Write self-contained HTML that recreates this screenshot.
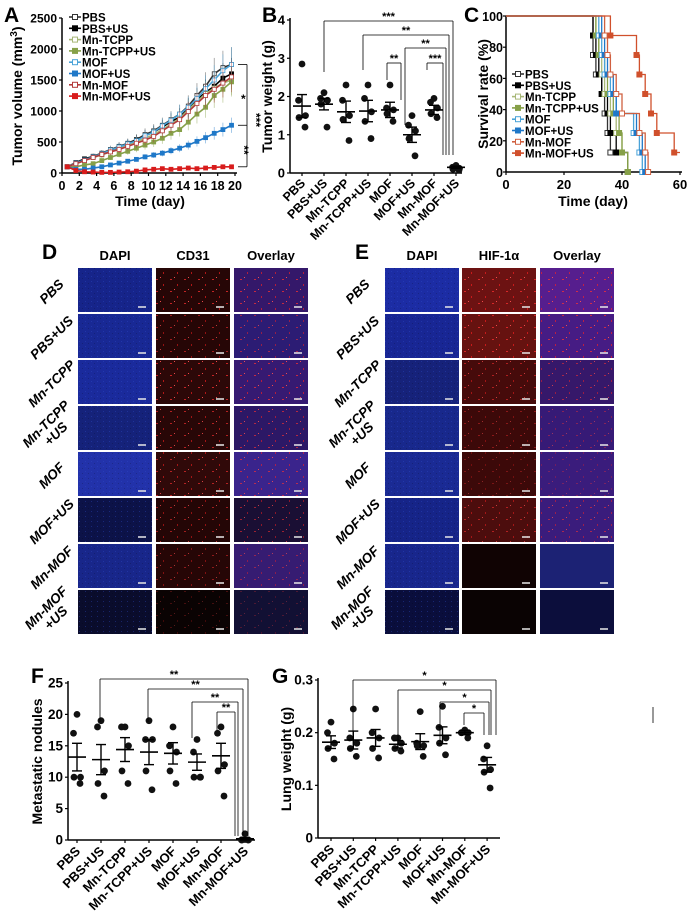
<!DOCTYPE html>
<html><head><meta charset="utf-8"><style>
body{margin:0;background:#fff}
svg{display:block;font-family:"Liberation Sans",Arial,sans-serif}
.t{font-weight:bold;fill:#000}
</style></head><body>
<svg id="fig" width="693" height="918" viewBox="0 0 693 918">
<defs>
<pattern id="spk" width="14" height="12" patternUnits="userSpaceOnUse">
<rect x="2" y="3" width="2" height="1" fill="#ff3030" opacity="0.8"/><rect x="9" y="8" width="1" height="2" fill="#ff2020" opacity="0.7"/><rect x="6" y="1" width="1" height="1" fill="#ff5050"/>
</pattern>
<pattern id="bsp" width="6" height="5" patternUnits="userSpaceOnUse">
<rect x="1" y="1" width="1" height="1" fill="#3050d0" opacity="0.6"/><rect x="4" y="3" width="1" height="1" fill="#000" opacity="0.3"/>
</pattern>
</defs>
<g id="root"></g>
</svg>
<script>
// ---------- Panel A data ----------
const aDays = [0.6,1.6,2.6,3.6,4.6,5.6,6.6,7.6,8.6,9.6,10.6,11.6,12.6,13.6,14.6,15.6,16.6,17.6,18.6,19.6];
const aNames = ["PBS","PBS+US","Mn-TCPP","Mn-TCPP+US","MOF","MOF+US","Mn-MOF","Mn-MOF+US"];
const aPBS = [100,170,230,270,320,380,430,480,540,620,680,770,860,950,1080,1250,1400,1600,1700,1750];
const aPBSUS = [100,160,220,260,300,360,420,470,530,600,660,740,830,900,1040,1180,1300,1400,1530,1600];
const aTCPP = [100,150,200,250,290,340,390,440,500,560,620,700,790,880,1020,1150,1280,1370,1450,1500];
const aTCPPUS = [100,100,130,150,200,250,300,350,400,450,500,560,640,700,820,950,1060,1250,1350,1470];
const aMOF = [100,160,210,260,310,370,420,470,520,600,660,760,850,950,1060,1200,1360,1500,1650,1750];
const aMOFUS = [100,60,60,80,100,130,160,190,220,260,290,320,360,400,450,510,570,640,700,770];
const aMnMOF = [100,150,200,250,300,340,380,430,480,530,590,680,770,860,990,1120,1250,1350,1450,1550];
const aMnMOFUS = [100,40,20,15,10,10,15,20,30,50,60,70,60,70,80,70,80,90,100,100];
const aYTicks = [0,500,1000,1500,2000,2500];
const aXTicks = [0,2,4,6,8,10,12,14,16,18,20];
// ---------- Panel B data ----------
const cats = ["PBS","PBS+US","Mn-TCPP","Mn-TCPP+US","MOF","MOF+US","Mn-MOF","Mn-MOF+US"];
const bMeans = [1.75,1.8,1.6,1.62,1.65,1.0,1.65,0.15];
const bSem = [0.3,0.15,0.28,0.28,0.2,0.2,0.12,0.03];
const bPts = [[2.85,1.9,1.5,1.45,1.2],[2.1,1.95,1.9,1.8,1.2],[2.3,1.9,1.5,1.4,0.85],[2.3,1.95,1.6,1.35,0.9],[2.3,1.7,1.65,1.55,1.35],[1.5,1.25,1.1,0.9,0.45],[1.95,1.85,1.7,1.55,1.45],[0.2,0.15,0.12,0.1,0.08]];
const bTicks = [0,1,2,3,4];
// ---------- Panel C data (death days, n=8) ----------
const cPBS = [30,30,31,33,34,35,36,42];
const cPBSUS = [30,31,32,33,35,36,38,42];
const cTCPP = [31,32,33,34,36,38,40,42];
const cTCPPUS = [31,32,34,35,37,39,40,42];
const cMOF = [32,33,34,36,38,44,46,47];
const cMOFUS = [33,34,35,37,38,45,47,48];
const cMnMOF = [34,35,36,38,40,46,48,49];
const cMnMOFUS = [36,45,46,48,50,52,58];
const cYTicks = [0,20,40,60,80,100];
const cXTicks = [0,20,40,60];
// ---------- Panel F data ----------
const fMeans = [13.2,12.8,14.4,14.0,13.8,12.4,13.4,0.2];
const fSem = [2.2,2.4,1.9,2.0,1.7,1.3,2.0,0.2];
const fPts = [[20,17,10,10,9],[19,18,11,9,7],[18,18,15,11,9],[19,16,16,11,8],[18,15,14,11,9],[16,14,10,10,10],[18,17,12,11,7],[1,0,0,0,0]];
const fTicks = [0,5,10,15,20,25];
// ---------- Panel G data ----------
const gMeans = [0.182,0.186,0.190,0.178,0.183,0.195,0.200,0.139];
const gSem = [0.012,0.017,0.016,0.007,0.015,0.016,0.004,0.014];
const gPts = [[0.22,0.2,0.18,0.17,0.15],[0.245,0.19,0.18,0.17,0.155],[0.245,0.2,0.19,0.17,0.152],[0.19,0.19,0.18,0.17,0.165],[0.24,0.18,0.175,0.175,0.155],[0.25,0.21,0.19,0.18,0.158],[0.205,0.2,0.2,0.2,0.19],[0.175,0.15,0.13,0.125,0.095]];
const gTicks = [0,0.1,0.2,0.3];

const NS="http://www.w3.org/2000/svg";
const root=document.getElementById('root');
function E(tag,parent){const e=document.createElementNS(NS,tag);(parent||root).appendChild(e);return e;}
function S(e,k,v){e.setAttribute(k,v);return e;}
function line(x1,y1,x2,y2,c,w,p){const l=E('line',p);S(l,'x1',x1);S(l,'y1',y1);S(l,'x2',x2);S(l,'y2',y2);S(l,'stroke',c);S(l,'stroke-width',w);return l;}
function text(x,y,s,size,p,anchor){const t=E('text',p);S(t,'x',x);S(t,'y',y);S(t,'font-size',size);S(t,'class','t');if(anchor)S(t,'text-anchor',anchor);t.textContent=s;return t;}
function grp(){return E('g');}

[["A",4,22],["B",262,22],["C",464,22],["D",42,259],["E",355,259],["F",31,683],["G",272,683]].forEach(a=>{
  const t=text(a[1],a[2],a[0],21);
  
  
});

// ===== Panel A =====
const gA=grp();


const ax=d=>62+d*(235-62)/20, ay=v=>173-v*(155/2500);
line(62,18,62,173,'#000',1.5,gA);line(62,173,237,173,'#000',1.5,gA);
aYTicks.forEach(v=>{line(59,ay(v),62,ay(v),'#000',1.2,gA);text(57,ay(v)+4.5,String(v),12,gA,'end');});
aXTicks.forEach(d=>{line(ax(d),173,ax(d),176,'#000',1.2,gA);text(ax(d),190,String(d),12.5,gA,'middle');});
const xt=text(150,206,"Time (day)",14,gA,'middle');


const ytA=text(0,0,"",14,gA,'middle');S(ytA,'transform','translate(22,96) rotate(-90)');
ytA.innerHTML='Tumor volume (mm<tspan dy="-5" font-size="10">3</tspan><tspan dy="5">)</tspan>';


const aSeries=[aPBS,aPBSUS,aTCPP,aTCPPUS,aMOF,aMOFUS,aMnMOF,aMnMOFUS];
const aCol=["#333","#000","#a8b878","#86a048","#4aa3d8","#1f78c8","#b23a3a","#d81c1c"];
const aFill=[false,true,false,true,false,true,false,true];
aSeries.forEach((s,i)=>{
  const sg=E('g',gA);
  
  
  s.forEach((v,j)=>{const e=v*0.16;line(ax(aDays[j]),ay(v+e),ax(aDays[j]),ay(Math.max(0,v-e)),aCol[i],0.8,sg).setAttribute('opacity','0.5');});
  const pl=E('polyline',sg);S(pl,'points',s.map((v,j)=>ax(aDays[j])+','+ay(v)).join(' '));S(pl,'fill','none');S(pl,'stroke',aCol[i]);S(pl,'stroke-width',1.6);
  s.forEach((v,j)=>{const r=E('rect',sg);S(r,'x',ax(aDays[j])-2);S(r,'y',ay(v)-2);S(r,'width',4);S(r,'height',4);S(r,'fill',aFill[i]?aCol[i]:'#fff');S(r,'stroke',aCol[i]);S(r,'stroke-width',0.8);});
});
aNames.forEach((n,i)=>{
  const lg=E('g',gA);
  
  
  const y=17+i*11.3;
  line(69,y,81,y,aCol[i],1.6,lg);
  const r=E('rect',lg);S(r,'x',72.5);S(r,'y',y-2.5);S(r,'width',5);S(r,'height',5);S(r,'fill',aFill[i]?aCol[i]:'#fff');S(r,'stroke',aCol[i]);
  text(82,y+4.5,n,11.5,lg);
});
const sgA=E('g',gA);


line(238,ay(1750),247,ay(1750),'#000',0.8,sgA);line(247,ay(1750),247,ay(100),'#000',0.8,sgA);
line(238,ay(100),247,ay(100),'#000',0.8,sgA);line(238,ay(770),247,ay(770),'#000',0.8,sgA);
text(241,103,"*",12,sgA);
const st3=text(0,0,"***",12,sgA,'middle');S(st3,'transform','translate(252,120) rotate(90)');
const st2=text(0,0,"**",12,sgA,'middle');S(st2,'transform','translate(240,150) rotate(90)');

// ===== dot plot helper =====
function dotPlot(name,x0,xAxisEnd,yTop,yBot,vmax,ticks,tickFmt,cx0,dx,means,sem,pts,labY,title,titleX,fontTick,labFont){
  const g=grp();
  
  
  const y=v=>yBot-v*(yBot-yTop)/vmax, x=i=>cx0+i*dx;
  line(x0,yTop-2,x0,yBot,'#000',1.5,g);line(x0,yBot,xAxisEnd,yBot,'#000',1.5,g);
  ticks.forEach(v=>{line(x0-3,y(v),x0,y(v),'#000',1.2,g);text(x0-5,y(v)+4.5,tickFmt(v),fontTick,g,'end');});
  cats.forEach((c,i)=>{
    line(x(i),yBot,x(i),yBot+3,'#000',1.2,g);
    const cg=E('g',g);
    
    
    pts[i].forEach((p,k)=>{const ci=E('circle',cg);S(ci,'cx',x(i)+[0,-3.5,3.5,-3,3][k]);S(ci,'cy',y(p));S(ci,'r',3.4);S(ci,'fill','#111');});
    line(x(i)-9,y(means[i]),x(i)+9,y(means[i]),'#000',1.6,cg);
    line(x(i),y(means[i]+sem[i]),x(i),y(means[i]-sem[i]),'#000',1.4,cg);
    line(x(i)-5,y(means[i]+sem[i]),x(i)+5,y(means[i]+sem[i]),'#000',1.4,cg);
    line(x(i)-5,y(means[i]-sem[i]),x(i)+5,y(means[i]-sem[i]),'#000',1.4,cg);
    const lt=text(0,0,c,labFont,g,'end');S(lt,'transform','translate('+(x(i)+4)+','+labY+') rotate(-45)');
    
    
  });
  const tt=text(0,0,title,14,g,'middle');S(tt,'transform','translate('+titleX+','+((yTop+yBot)/2)+') rotate(-90)');
  
  
  return {g,x,y};
}
function bracket(g,x1,x2,yb,d1,d2,label){
  line(x1,yb,x2,yb,'#000',0.8,g);line(x1,yb,x1,d1,'#000',0.8,g);line(x2,yb,x2,d2,'#000',0.8,g);
  text((x1+x2)/2,yb-1,label,11,g,'middle');
}
// ===== Panel B =====
const B=dotPlot('tumor-weight-chart',290,462,20,173,4,bTicks,v=>String(v),302,22,bMeans,bSem,bPts,184,'Tumor weight (g)',272,13,12.5);
const bb=E('g',B.g);


bracket(bb,324,453,21,72,155,'***');bracket(bb,363,449,35,70,155,'**');
bracket(bb,405,446,48,125,155,'**');bracket(bb,387,401,63,80,100,'**');bracket(bb,427,443,63,70,155,'***');

// ===== Panel C =====
const gC=grp();


const cx=d=>506+d*(680-506)/60, cy=v=>172-v*1.56;
line(506,16,506,172,'#000',1.5,gC);line(506,172,682,172,'#000',1.5,gC);
cYTicks.forEach(v=>{line(503,cy(v),506,cy(v),'#000',1.2,gC);text(503,cy(v)+5,String(v),12.5,gC,'end');});
cXTicks.forEach(d=>{line(cx(d),172,cx(d),175,'#000',1.2,gC);text(cx(d),189,String(d),13,gC,'middle');});
const ctx=text(593,206,"Time (day)",14,gC,'middle');


const cyt=text(0,0,"Survival rate (%)",14,gC,'middle');S(cyt,'transform','translate(488,94) rotate(-90)');


const cSeries=[cPBS,cPBSUS,cTCPP,cTCPPUS,cMOF,cMOFUS,cMnMOF,cMnMOFUS];
const cCol=["#333","#000","#a8b878","#86a048","#4aa3d8","#1f78c8","#d06040","#d0502c"];
cSeries.forEach((s,i)=>{
  const sg=E('g',gC);
  
  
  let pts=[[0,100]],v=100;
  s.forEach(d=>{pts.push([d,v]);v-=12.5;pts.push([d,v]);});
  if(v>0)pts.push([60,v]);
  const pl=E('polyline',sg);S(pl,'points',pts.map(p=>cx(p[0])+','+cy(p[1])).join(' '));S(pl,'fill','none');S(pl,'stroke',cCol[i]);S(pl,'stroke-width',1.3);
  v=100;s.forEach(d=>{v-=12.5;const r=E('rect',sg);S(r,'x',cx(d)-2.5);S(r,'y',cy(v)-2.5);S(r,'width',5);S(r,'height',5);S(r,'fill',aFill[i]?cCol[i]:'#fff');S(r,'stroke',cCol[i]);});
});
aNames.forEach((n,i)=>{
  const lg=E('g',gC);
  
  
  const y=74+i*11.3;
  line(512,y,524,y,cCol[i],1.6,lg);
  const r=E('rect',lg);S(r,'x',515.5);S(r,'y',y-2.5);S(r,'width',5);S(r,'height',5);S(r,'fill',aFill[i]?cCol[i]:'#fff');S(r,'stroke',cCol[i]);
  text(525,y+4.5,n,11.5,lg);
});

// ===== Panels D & E (micrographs) =====
const rowLabels=[["PBS"],["PBS+US"],["Mn-TCPP"],["Mn-TCPP","+US"],["MOF"],["MOF+US"],["Mn-MOF"],["Mn-MOF","+US"]];
function micro(name,cols,colX,headers,lblX,bright){
  const g=grp();
  
  
  headers.forEach((h,c)=>{const t=text(colX[c]+37,260,h,13,g,'middle');});
  rowLabels.forEach((lab,r)=>{
    const y0=268+r*46;
    cols.forEach((c,ci)=>{
      const rc=E('rect',g);S(rc,'x',colX[ci]);S(rc,'y',y0);S(rc,'width',74);S(rc,'height',44);S(rc,'fill',c[r]);
      
      
      const tx=E('rect',g);S(tx,'x',colX[ci]);S(tx,'y',y0);S(tx,'width',74);S(tx,'height',44);S(tx,'fill',ci>0&&bright[r]?'url(#spk)':'url(#bsp)');S(tx,'opacity',ci>0?bright[r]:0.6);
      line(colX[ci]+60,y0+39,colX[ci]+68,y0+39,'#e8e8e8',1.5,g);
    });
    const tg=E('text',g);S(tg,'class','t');S(tg,'font-size',13.5);S(tg,'font-style','italic');S(tg,'text-anchor','middle');
    S(tg,'transform','translate('+lblX+','+(y0+24)+') rotate(-45)');
    
    
    lab.forEach((l,k)=>{const ts=E('tspan',tg);S(ts,'x',0);S(ts,'dy',k===0?(lab.length>1?-4:4):14);ts.textContent=l;});
  });
  return g;
}
micro('cd31-staining',[
  ["#16248a","#182894","#1a2a9c","#15227a","#2232aa","#0c1248","#18268a","#0a0c2c"],
  ["#260606","#260606","#2c0808","#280707","#300909","#240606","#260606","#0a0303"],
  ["#34186a","#2c1c74","#361a72","#2c1866","#3a248c","#1a0f34","#361c72","#121034"]
],[78,156,234],["DAPI","CD31","Overlay"],52,[0.9,0.7,0.9,0.8,0.8,0.7,0.6,0.3]);
micro('hif1a-staining',[
  ["#1c2ca4","#182694","#16227a","#18288c","#1a2a94","#162488","#18268c","#0a0e3c"],
  ["#6c1212","#661210","#460b0b","#3c0909","#3c0909","#4c0d0d","#100303","#0a0303"],
  ["#561e8e","#461c84","#36186a","#361a76","#3a1c7c","#3a1c7c","#1c2274","#0c0e3c"]
],[385,462,540],["DAPI","HIF-1α","Overlay"],358,[0.9,0.9,0.7,0.5,0.4,0.7,0,0]);

// ===== Panel F =====
const F=dotPlot('metastatic-nodules-chart',68,255,683,840,25,fTicks,v=>String(v),77,24,fMeans,fSem,fPts,852,'Metastatic nodules',42,13.5,13);
const fb=E('g',F.g);


bracket(fb,100,248,679,722,836,'**');bracket(fb,148,243,689,722,836,'**');
bracket(fb,192,238,702,738,836,'**');bracket(fb,217,235,712,730,836,'**');

// ===== Panel G =====
const G=dotPlot('lung-weight-chart',318,500,680,838,0.3,gTicks,v=>v===0?'0':String(v),331,22.3,gMeans,gSem,gPts,850,'Lung weight (g)',291,13.5,13);
const gb=E('g',G.g);


bracket(gb,353,496,680,740,735,'*');bracket(gb,398,491,690,745,735,'*');
bracket(gb,440,489,702,742,735,'*');bracket(gb,464,484,713,725,735,'*');

const stray=line(653,707,653,723,'#777',1.5);


</script>
</body></html>
